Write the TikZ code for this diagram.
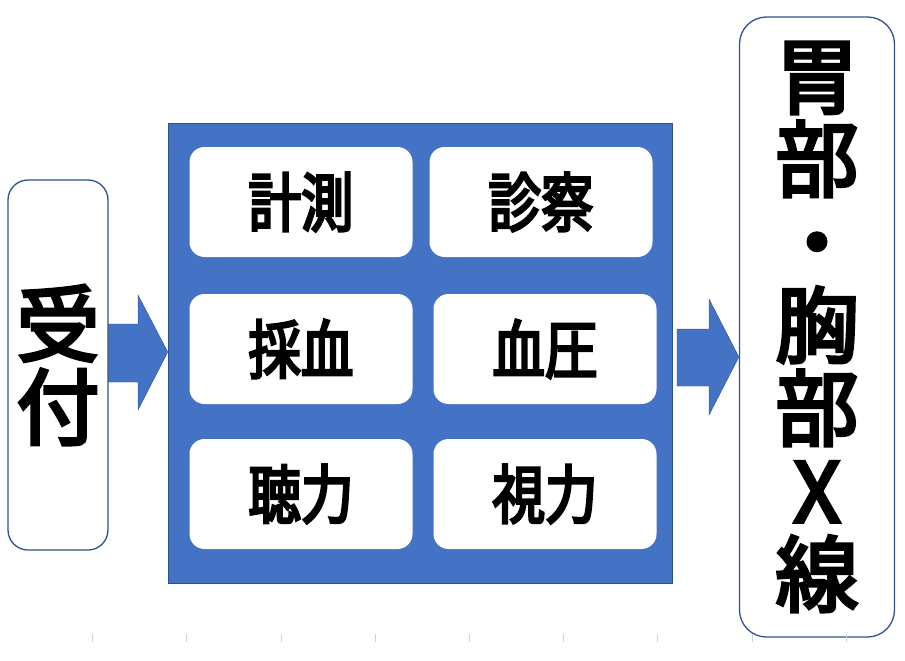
\documentclass[tikz,border=0pt]{standalone}
\usepackage{fontspec}
\usepackage{xcolor}
\usepackage{tikz}
\setmainfont{Noto Sans CJK JP}[FakeBold=4]
\newfontfamily\jpetroit{Noto Sans CJK JP}[FakeStretch=0.82, FakeBold=4]

\definecolor{bleu}{HTML}{4472C4}
\definecolor{bord}{HTML}{2F528F}

\begin{document}
\begin{tikzpicture}[
      x=1pt, y=-1pt,
      etape/.style={
        draw=bord,
        line width=1.3pt,
        fill=white,
        rounded corners=20pt,
        align=center,
        inner sep=0pt,
        font=\fontsize{83}{83}\selectfont
      },
      examen/.style={
        fill=white,
        rounded corners=15pt,
        minimum width=223pt,
        minimum height=110pt,
        inner sep=0pt,
        font=\fontsize{64}{64}\selectfont\jpetroit
      },
      fleche/.style={
        fill=bleu,
        draw=bord,
        line width=0.4pt
      }
      ]
        \useasboundingbox (0,0) rectangle (905,661);

        \node[etape, minimum width=100pt, minimum height=370pt] (uketsuke) at (58,365) {受\\付};

        \node[fill=bleu, draw=bord, line width=0.5pt, minimum width=504pt, minimum height=460pt, inner sep=0pt] (bloc) at (420,353) {};

        \node[examen] (keisoku) at (301,202) {計測};
        \node[examen] (shinsatsu) at (541,202) {診察};
        \node[examen] (saiketsu) at (301,349) {採血};
        \node[examen] (ketsuatsu) at (545,349) {血圧};
        \node[examen] (choryoku) at (301,494) {聴力};
        \node[examen] (shiryoku) at (545,494) {視力};

        \node[etape, rounded corners=27pt, minimum width=155pt, minimum height=620pt] (xsen) at (817,327) {胃\\部\\・\\胸\\部\\X\\線};

        % flèches
        \fill[fleche] (uketsuke.east |- 0,324) -- (138,324) -- (138,295)
            -- (bloc.west |- 0,352) -- (138,410) -- (138,382) -- (uketsuke.east |- 0,382) -- cycle;
        \fill[fleche] (677,329) -- (709,329) -- (709,299)
            -- (xsen.west |- 0,357) -- (709,415) -- (709,386) -- (677,386) -- cycle;

        % graduations
        \foreach \i in {0,...,8}
            \draw[gray!35, line width=0.6pt] (92.5+94.2*\i,634) -- ++(0,8);
    \end{tikzpicture}
\end{document}
